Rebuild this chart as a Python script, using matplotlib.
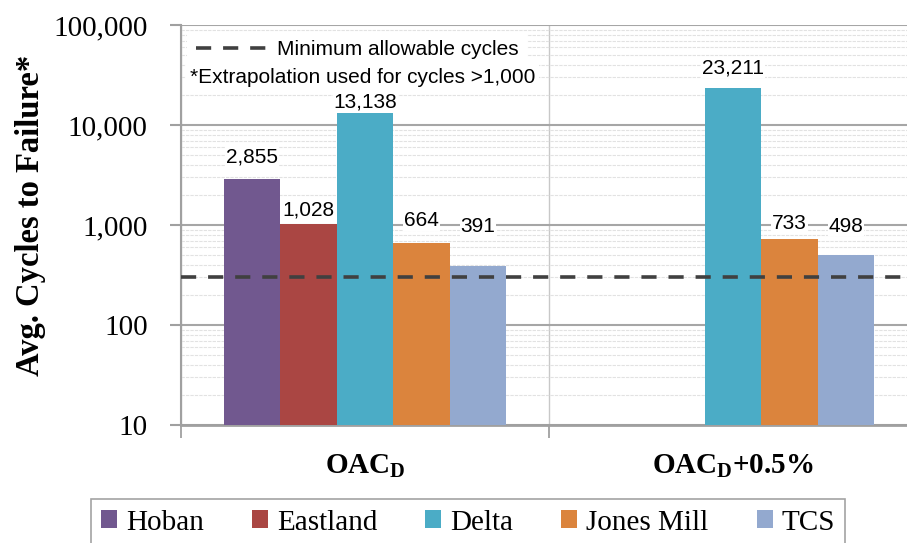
import numpy as np
import matplotlib
matplotlib.use('Agg')
import matplotlib.pyplot as plt
from matplotlib.lines import Line2D

plt.rcParams['font.family'] = 'Liberation Serif'
plt.rcParams['mathtext.fontset'] = 'custom'
plt.rcParams['mathtext.rm'] = 'Liberation Serif'
plt.rcParams['mathtext.bf'] = 'Liberation Serif:bold'

# mixes and sites
mezclas = [r'$\mathbf{OAC_D}$', r'$\mathbf{OAC_D{+}0.5\%}$']
sitios = ['Hoban', 'Eastland', 'Delta', 'Jones Mill', 'TCS']
colores = ['#71588F', '#AA4643', '#4BACC6', '#DB843D', '#93A9CF']

# avg cycles to failure per site, one value per mix (nan = not tested)
hoban = [2855, np.nan]
eastland = [1028, np.nan]
delta = [13138, 23211]
jones_mill = [664, 733]
tcs = [391, 498]

ciclos_minimos = 300
y_ticks = [10, 100, 1000, 10000, 100000]

# vertical offsets (points) of the value labels, per site and mix
desplaz = [[16.5, 15], [10, 10], [8, 15], [16, 11], [28, 21]]

series = [hoban, eastland, delta, jones_mill, tcs]

fig = plt.figure(figsize=(9.07, 5.43), dpi=100)
ax = fig.add_axes([0.1996, 0.2173, 0.8115, 0.7366])

x = np.arange(len(mezclas))
ancho = 0.1535

for i, (nombre, vals, color) in enumerate(zip(sitios, series, colores)):
    pos = x + (i - 2) * ancho
    ax.bar(pos, vals, ancho, color=color, label=nombre, zorder=3)
    for j, v in enumerate(vals):
        if np.isnan(v):
            continue
        ax.annotate(f'{int(v):,}', (pos[j], v), xytext=(0, desplaz[i][j]),
                    textcoords='offset points', ha='center', va='center',
                    fontsize=15, family='Liberation Sans', zorder=5,
                    bbox=dict(facecolor='white', edgecolor='none', pad=0.5))

linea = ax.axhline(ciclos_minimos, color='#404040', lw=2.6,
                   linestyle=(0, (4.2, 3.3)), zorder=4)

ax.set_yscale('log')
ax.set_ylim(10, 100000)
ax.set_xlim(-0.5, 1.5)

ax.set_yticks(y_ticks)
ax.set_yticklabels([f'{v:,}' for v in y_ticks], fontsize=21)
ax.yaxis.set_minor_formatter(plt.NullFormatter())
ax.tick_params(axis='y', which='major', length=8, width=1.5, color='#a0a0a0', pad=16)
ax.tick_params(axis='y', which='minor', length=0)

ax.set_xticks(x)
ax.set_xticklabels(mezclas, fontsize=21)
ax.set_xticks([-0.5, 0.5, 1.5], minor=True)
ax.tick_params(axis='x', which='major', length=0, pad=20)
ax.tick_params(axis='x', which='minor', length=9, width=1.3, color='#a0a0a0')

ax.grid(axis='y', which='major', color='#a6a6a6', lw=1.5, zorder=0)
ax.grid(axis='y', which='minor', color='#e2e2e2', lw=0.8, linestyle=(0, (3, 1)), zorder=0)
ax.grid(axis='x', which='minor', color='#c8c8c8', lw=1.0, zorder=0)

for lado in ['top', 'right']:
    ax.spines[lado].set_visible(False)
ax.spines['left'].set_color('#a0a0a0')
ax.spines['left'].set_linewidth(1.5)
ax.spines['bottom'].set_color('#a0a0a0')
ax.spines['bottom'].set_linewidth(2)

ax.set_ylabel('Avg. Cycles to Failure*', fontsize=23.5, fontweight='bold')
ax.yaxis.set_label_coords(-0.183, 0.525)

# dashed-line key and note in the upper left corner
muestra = Line2D([], [], color='#404040', lw=2.6, linestyle=(0, (4.2, 3.3)))
ley1 = ax.legend([muestra], ['Minimum allowable cycles'], loc='upper left',
                 bbox_to_anchor=(0.0, 0.998), prop={'family': 'Liberation Sans', 'size': 15},
                 handlelength=3.4, handletextpad=0.5, borderaxespad=0.3,
                 frameon=True, facecolor='white', edgecolor='none', framealpha=1,
                 fancybox=False)
ley1.set_zorder(6)
ax.add_artist(ley1)
ax.text(0.012, 0.87, '*Extrapolation used for cycles >1,000', transform=ax.transAxes,
        fontsize=15, family='Liberation Sans', va='center', ha='left', zorder=6,
        bbox=dict(facecolor='white', edgecolor='none', pad=3))

# site legend under the chart
handles, labels = ax.get_legend_handles_labels()
ley2 = fig.legend(handles, labels, loc='lower center', bbox_to_anchor=(0.516, -0.032),
                  ncol=5, fontsize=21, frameon=True, fancybox=False,
                  edgecolor='#8c8c8c', handlelength=0.55, handleheight=0.55,
                  handletextpad=0.3, columnspacing=1.65, borderpad=0.35, borderaxespad=0.5)
ley2.get_frame().set_linewidth(1.2)

fig.savefig('out.png', dpi=100)
